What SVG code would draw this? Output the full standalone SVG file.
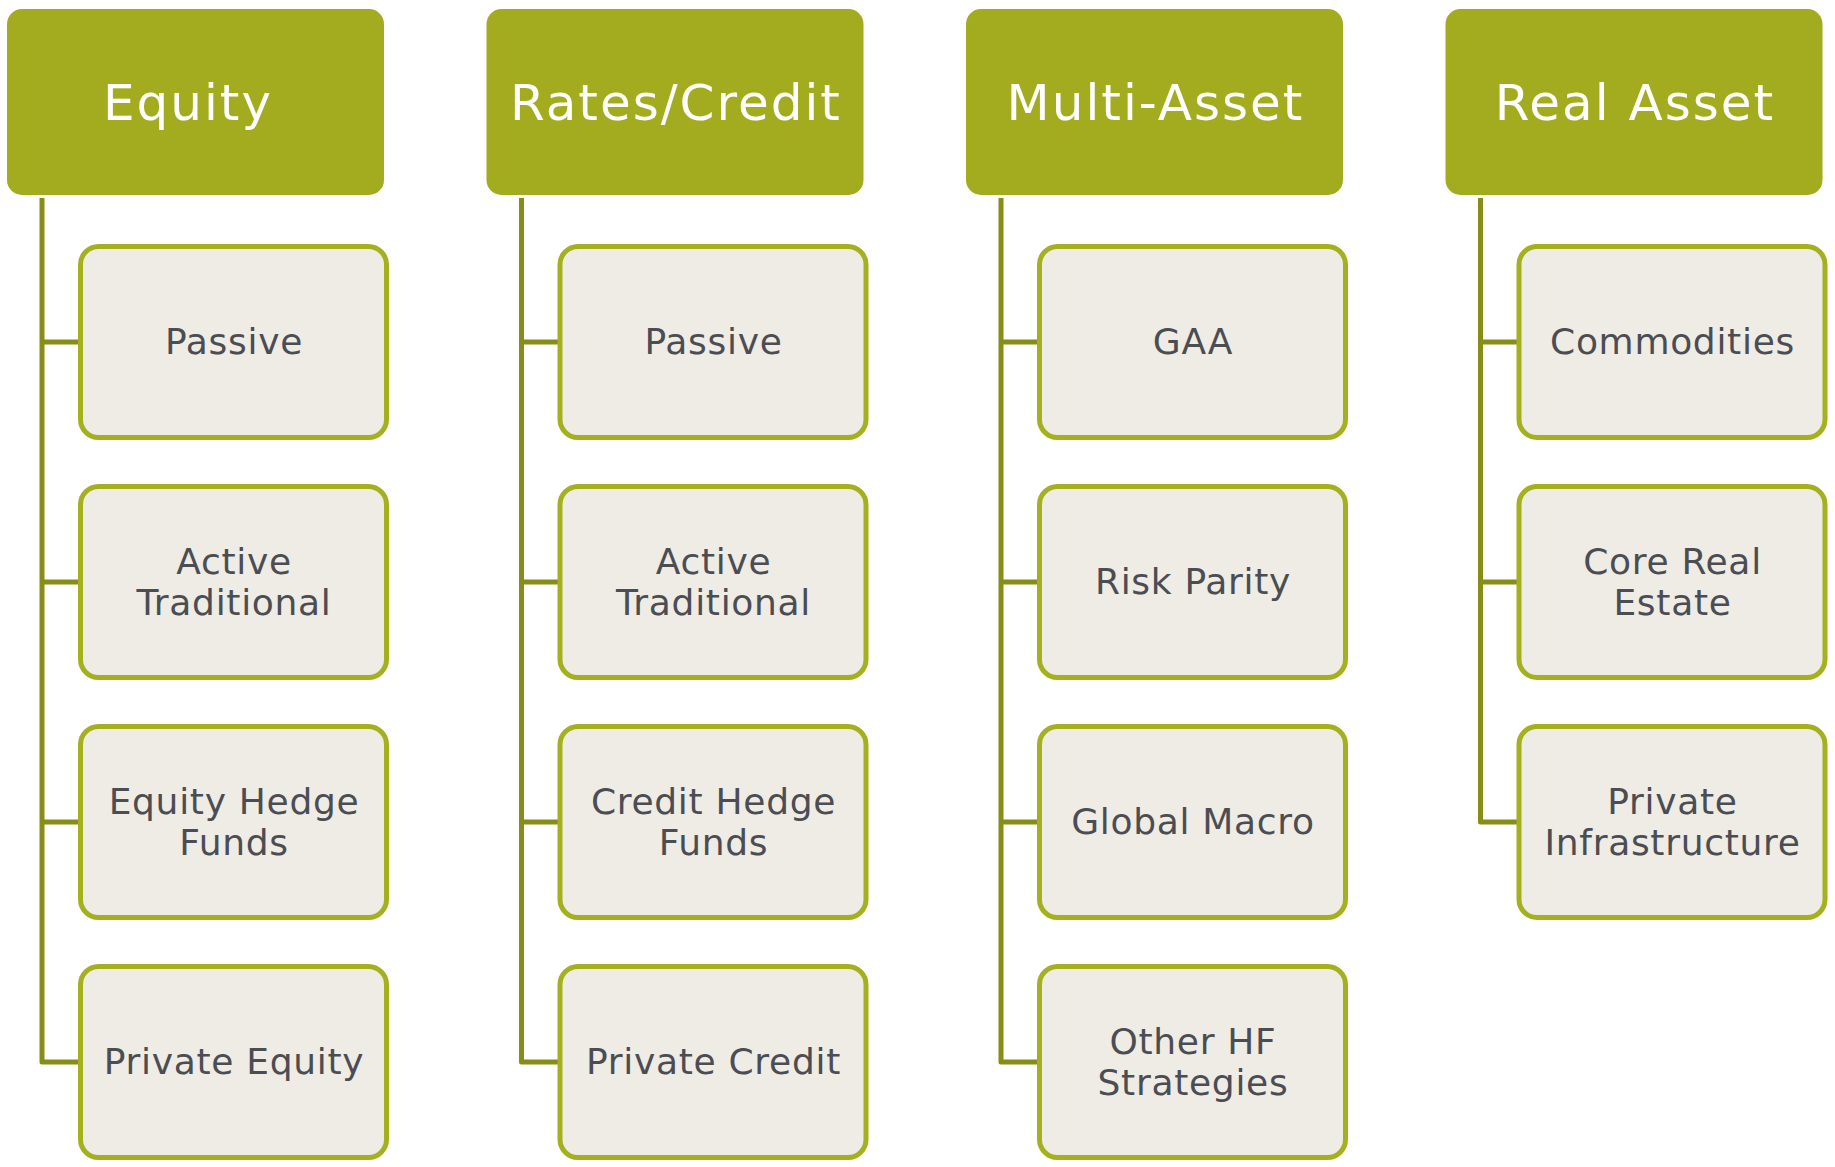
<svg xmlns="http://www.w3.org/2000/svg" width="1835" height="1167" viewBox="0 0 1835 1167">
  <style>
    .hdr { fill: #a2ac1e; }
    .hdr-t { font-family: "DejaVu Sans", Verdana, sans-serif; font-size: 50px; letter-spacing: 2px; fill: #ffffff; text-anchor: middle; }
    .box { fill: #eeece4; stroke: #a5b01f; stroke-width: 5; }
    .box-t { font-family: "DejaVu Sans", Verdana, sans-serif; font-size: 36px; letter-spacing: 0.7px; fill: #4b4d53; text-anchor: middle; }
    .link { fill: none; stroke: #868e17; stroke-width: 5; stroke-linejoin: round; }
  </style>

  <!-- tree connectors: one trunk per column with a branch to each item -->
  <g id="connectors">
    <path class="link" d="M42,198 V1062 H80 M42,342 H80 M42,582 H80 M42,822 H80"/>
    <path class="link" d="M521.5,198 V1062 H559.5 M521.5,342 H559.5 M521.5,582 H559.5 M521.5,822 H559.5"/>
    <path class="link" d="M1001,198 V1062 H1039 M1001,342 H1039 M1001,582 H1039 M1001,822 H1039"/>
    <path class="link" d="M1480.5,198 V822 H1518.5 M1480.5,342 H1518.5 M1480.5,582 H1518.5"/>
  </g>

  <!-- Equity column -->
  <g id="equity">
    <rect class="hdr" x="7" y="9" width="377" height="186" rx="15"/>
    <text class="hdr-t" x="188" y="120">Equity</text>
  </g>
  <g id="equity-passive">
    <rect class="box" x="80.5" y="246.5" width="306" height="191" rx="18"/>
    <text class="box-t" x="234" y="354">Passive</text>
  </g>
  <g id="equity-active">
    <rect class="box" x="80.5" y="486.5" width="306" height="191" rx="18"/>
    <text class="box-t" x="234" y="574">Active</text>
    <text class="box-t" x="234" y="615">Traditional</text>
  </g>
  <g id="equity-hedge">
    <rect class="box" x="80.5" y="726.5" width="306" height="191" rx="18"/>
    <text class="box-t" x="234" y="814">Equity Hedge</text>
    <text class="box-t" x="234" y="855">Funds</text>
  </g>
  <g id="equity-private">
    <rect class="box" x="80.5" y="966.5" width="306" height="191" rx="18"/>
    <text class="box-t" x="234" y="1074">Private Equity</text>
  </g>

  <!-- Rates/Credit column -->
  <g id="rates">
    <rect class="hdr" x="486.5" y="9" width="377" height="186" rx="15"/>
    <text class="hdr-t" x="676" y="120">Rates/Credit</text>
  </g>
  <g id="rates-passive">
    <rect class="box" x="560" y="246.5" width="306" height="191" rx="18"/>
    <text class="box-t" x="713.5" y="354">Passive</text>
  </g>
  <g id="rates-active">
    <rect class="box" x="560" y="486.5" width="306" height="191" rx="18"/>
    <text class="box-t" x="713.5" y="574">Active</text>
    <text class="box-t" x="713.5" y="615">Traditional</text>
  </g>
  <g id="rates-hedge">
    <rect class="box" x="560" y="726.5" width="306" height="191" rx="18"/>
    <text class="box-t" x="713.5" y="814">Credit Hedge</text>
    <text class="box-t" x="713.5" y="855">Funds</text>
  </g>
  <g id="rates-private">
    <rect class="box" x="560" y="966.5" width="306" height="191" rx="18"/>
    <text class="box-t" x="713.5" y="1074">Private Credit</text>
  </g>

  <!-- Multi-Asset column -->
  <g id="multi">
    <rect class="hdr" x="966" y="9" width="377" height="186" rx="15"/>
    <text class="hdr-t" x="1155.5" y="120">Multi-Asset</text>
  </g>
  <g id="multi-gaa">
    <rect class="box" x="1039.5" y="246.5" width="306" height="191" rx="18"/>
    <text class="box-t" x="1193" y="354">GAA</text>
  </g>
  <g id="multi-parity">
    <rect class="box" x="1039.5" y="486.5" width="306" height="191" rx="18"/>
    <text class="box-t" x="1193" y="594">Risk Parity</text>
  </g>
  <g id="multi-macro">
    <rect class="box" x="1039.5" y="726.5" width="306" height="191" rx="18"/>
    <text class="box-t" x="1193" y="834">Global Macro</text>
  </g>
  <g id="multi-other">
    <rect class="box" x="1039.5" y="966.5" width="306" height="191" rx="18"/>
    <text class="box-t" x="1193" y="1054">Other HF</text>
    <text class="box-t" x="1193" y="1095">Strategies</text>
  </g>

  <!-- Real Asset column -->
  <g id="real">
    <rect class="hdr" x="1445.5" y="9" width="377" height="186" rx="15"/>
    <text class="hdr-t" x="1635" y="120">Real Asset</text>
  </g>
  <g id="real-commodities">
    <rect class="box" x="1519" y="246.5" width="306" height="191" rx="18"/>
    <text class="box-t" x="1672.5" y="354">Commodities</text>
  </g>
  <g id="real-estate">
    <rect class="box" x="1519" y="486.5" width="306" height="191" rx="18"/>
    <text class="box-t" x="1672.5" y="574">Core Real</text>
    <text class="box-t" x="1672.5" y="615">Estate</text>
  </g>
  <g id="real-infra">
    <rect class="box" x="1519" y="726.5" width="306" height="191" rx="18"/>
    <text class="box-t" x="1672.5" y="814">Private</text>
    <text class="box-t" x="1672.5" y="855">Infrastructure</text>
  </g>
</svg>
